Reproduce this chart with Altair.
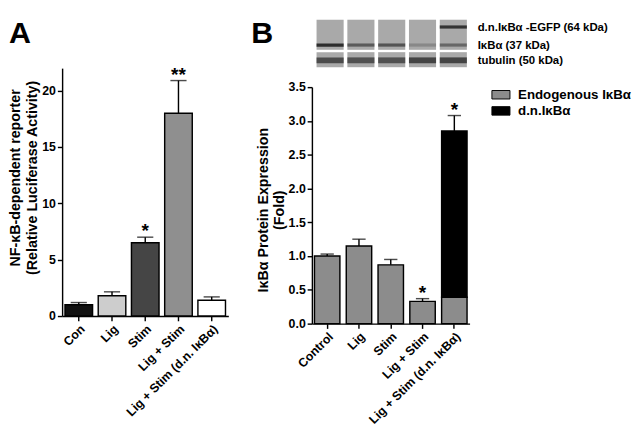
import altair as alt
import pandas as pd

FONT = "Liberation Sans"

# ---------------- Panel A data ----------------
cats_a = ["Con", "Lig", "Stim", "Lig + Stim", "Lig + Stim (d.n. IκBα)"]
vals_a = [1.0, 1.8, 6.5, 18.0, 1.4]
errs_a = [0.2, 0.35, 0.5, 2.9, 0.3]
stars_a = ["", "", "*", "**", ""]
fills_a = ["#111111", "#cdcdcd", "#454545", "#8f8f8f", "#ffffff"]

# ---------------- Panel B data ----------------
cats_b = ["Control", "Lig", "Stim", "Lig + Stim", "Lig + Stim (d.n. IκBα)"]
endo_b = [1.0, 1.15, 0.87, 0.33, 0.39]
dn_b = [0.0, 0.0, 0.0, 0.0, 2.46]
errs_b = [0.03, 0.10, 0.08, 0.04, 0.23]
stars_b = ["", "", "", "*", "*"]
series_b = ["Endogenous IκBα", "d.n.IκBα"]
fills_b = ["#8c8c8c", "#000000"]

# ---------------- Western blot (relative band intensities) ----------------
blot_labels = ["d.n.IκBα -EGFP (64 kDa)", "IκBα  (37 kDa)", "tubulin (50 kDa)"]
egfp_band = [0.0, 0.0, 0.0, 0.0, 0.9]
ikb_band = [0.95, 0.6, 0.65, 0.25, 0.5]
tub_band = [0.8, 0.75, 0.75, 0.85, 0.85]

# ---------------- tables ----------------
df_a = pd.DataFrame({"cat": cats_a, "val": vals_a, "err": errs_a, "star": stars_a})
df_a["upper"] = df_a["val"] + df_a["err"]

rows = []
for c, e, d in zip(cats_b, endo_b, dn_b):
    rows.append({"cat": c, "series": series_b[0], "v": e, "ord": 0})
    if d > 0:
        rows.append({"cat": c, "series": series_b[1], "v": d, "ord": 1})
df_b = pd.DataFrame(rows)
df_bs = pd.DataFrame({"cat": cats_b, "total": [e + d for e, d in zip(endo_b, dn_b)],
                      "err": errs_b, "star": stars_b})
df_bs["upper"] = df_bs["total"] + df_bs["err"]

df_blot = pd.DataFrame({"lane": cats_b, "egfp": egfp_band, "ikb": ikb_band, "tub": tub_band})

# ---------------- Panel A ----------------
xa = alt.X("cat:N", sort=cats_a,
           scale=alt.Scale(paddingInner=0.17, paddingOuter=0.086),
           axis=alt.Axis(title=None, labelAngle=-45, labelPadding=2))
ya_scale = alt.Scale(domain=[0, 22], nice=False)
base_a = alt.Chart(df_a)
bars_a = base_a.mark_bar(stroke="black", strokeWidth=1.5).encode(
    x=xa,
    y=alt.Y("val:Q", scale=ya_scale,
            axis=alt.Axis(values=[0, 5, 10, 15, 20], format="d", labelOverlap=False,
                          tickCount=30,
                          title=["NF-κB-dependent reporter", "(Relative Luciferase Activity)"],
                          titleY=115, titlePadding=3)),
    color=alt.Color("cat:N", scale=alt.Scale(domain=cats_a, range=fills_a), legend=None),
)
rule_a = base_a.mark_rule(color="black", strokeWidth=1.5).encode(
    x=alt.X("cat:N", sort=cats_a), y="val:Q", y2="upper:Q")
cap_a = base_a.mark_tick(color="black", size=17, thickness=1.5).encode(
    x=alt.X("cat:N", sort=cats_a), y="upper:Q")
star_a = base_a.mark_text(font=FONT, fontSize=20, fontWeight="bold", baseline="alphabetic",
                          color="black").encode(
    x=alt.X("cat:N", sort=cats_a), y="upper:Q", text="star:N")
chart_a = alt.layer(bars_a, rule_a, cap_a, star_a).properties(width=175, height=261)

spacer_a = alt.Chart(pd.DataFrame({"t": ["A"]})).mark_text(
    font=FONT, fontSize=32, fontWeight="bold", align="left", baseline="top",
    x=-56, y=0, color="black").encode(text="t:N").properties(width=175, height=36)

# ---------------- Blot ----------------
xbl = alt.X("lane:N", sort=cats_b, scale=alt.Scale(paddingInner=0.12, paddingOuter=0.15), axis=None)
blot_base = alt.Chart(df_blot)
yscale_blot = alt.Scale(domain=[0, 3], reverse=True, nice=False)
strip_top = blot_base.mark_rect(color="#a9a9a9").encode(
    x=xbl,
    y=alt.Y(datum=0, scale=yscale_blot,
            axis=alt.Axis(orient="right", values=[0.45, 1.6, 2.55], domain=False, ticks=False,
                          title=None, labelFontSize=12, labelPadding=6, labelLimit=300,
                          labelOverlap=False, tickCount=30,
                          labelExpr="datum.value < 1 ? '%s' : datum.value < 2 ? '%s' : '%s'"
                          % tuple(blot_labels))),
    y2=alt.datum(1.9))
strip_bot = blot_base.mark_rect(color="#a9a9a9").encode(
    x=xbl, y=alt.datum(2.05), y2=alt.datum(3.0))
op = lambda f: alt.Opacity(f, scale=alt.Scale(domain=[0, 1], range=[0, 1]), legend=None)
band_egfp = blot_base.mark_rect(color="#262626").encode(
    x=xbl, y=alt.datum(0.36), y2=alt.datum(0.56), opacity=op("egfp:Q"))
band_ikb = blot_base.mark_rect(color="#262626").encode(
    x=xbl, y=alt.datum(1.5), y2=alt.datum(1.7), opacity=op("ikb:Q"))
band_tub = blot_base.mark_rect(color="#333333").encode(
    x=xbl, y=alt.datum(2.38), y2=alt.datum(2.75), opacity=op("tub:Q"))
letter_b = alt.Chart(pd.DataFrame({"t": ["B"]})).mark_text(
    font=FONT, fontSize=32, fontWeight="bold", align="left", baseline="top",
    x=-64, y=0, color="black").encode(text="t:N")
blot = alt.layer(strip_top, strip_bot, band_egfp, band_ikb, band_tub, letter_b).properties(
    width=168, height=50)

# ---------------- Panel B ----------------
xb = alt.X("cat:N", sort=cats_b,
           scale=alt.Scale(paddingInner=0.2, paddingOuter=0.08),
           axis=alt.Axis(title=None, labelAngle=-45, labelPadding=2))
yb_scale = alt.Scale(domain=[0, 3.5], nice=False)
bars_b = alt.Chart(df_b).mark_bar(stroke="black", strokeWidth=1.5).encode(
    x=xb,
    y=alt.Y("v:Q", stack="zero", scale=yb_scale,
            axis=alt.Axis(values=[0, 0.5, 1, 1.5, 2, 2.5, 3, 3.5], format=".1f",
                          labelOverlap=False, tickCount=30,
                          title=["IκBα Protein Expression", "(Fold)"],
                          titleY=129, titlePadding=2)),
    color=alt.Color("series:N", scale=alt.Scale(domain=series_b, range=fills_b),
                    legend=alt.Legend(orient="none", legendX=189, legendY=-2, title=None,
                                      symbolType="M-1,-0.47H1V0.47H-1Z", symbolSize=361,
                                      symbolStrokeColor="black", symbolStrokeWidth=1,
                                      labelFontSize=14, labelOffset=8, rowPadding=0,
                                      padding=0, labelLimit=300)),
    order=alt.Order("ord:Q"),
)
base_bs = alt.Chart(df_bs)
rule_b = base_bs.mark_rule(color="black", strokeWidth=1.5).encode(
    x=alt.X("cat:N", sort=cats_b), y="total:Q", y2="upper:Q")
cap_b = base_bs.mark_tick(color="black", size=14, thickness=1.5).encode(
    x=alt.X("cat:N", sort=cats_b), y="upper:Q")
star_b = base_bs.mark_text(font=FONT, fontSize=20, fontWeight="bold", baseline="alphabetic",
                           color="black").encode(
    x=alt.X("cat:N", sort=cats_b), y="upper:Q", text="star:N")
chart_b = alt.layer(bars_b, rule_b, cap_b, star_b).properties(width=166, height=249)

left = alt.vconcat(spacer_a, chart_a, spacing=12)
right = alt.vconcat(blot, chart_b, spacing=15).resolve_scale(
    color="independent", opacity="independent")

chart = alt.hconcat(left, right, spacing=24).resolve_scale(
    color="independent", opacity="independent"
).properties(padding=0).configure_view(
    stroke=None
).configure_axis(
    labelFont=FONT, labelFontWeight="bold", labelFontSize=13, labelColor="black",
    titleFont=FONT, titleFontWeight="bold", titleFontSize=15, titleColor="black",
    titleLineHeight=17, labelOverlap=False,
    domainColor="black", domainWidth=1.5, tickColor="black", tickWidth=1.5, tickSize=5,
    grid=False,
).configure_legend(
    labelFont=FONT, labelFontWeight="bold", labelColor="black"
)

chart.save("out.html", embed_options={"renderer": "svg", "actions": False})
